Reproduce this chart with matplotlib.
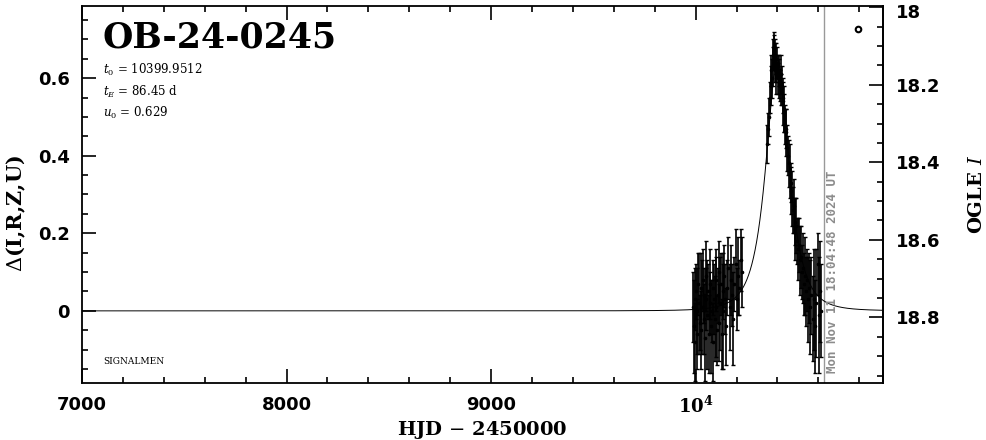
import numpy as np
import matplotlib
matplotlib.use("Agg")
import matplotlib.pyplot as plt
import matplotlib.transforms as mtransforms
from matplotlib.ticker import MultipleLocator, FuncFormatter
from matplotlib.font_manager import FontProperties

# ── event parameters (as printed on the chart) ───────────────────────────────
EVENT = "OB-24-0245"
T0, TE, U0 = 10399.9512, 86.45, 0.629
BASE_MAG = 18.783          # OGLE I at delta = 0
NOW = 10626.25             # Mon Nov 11 18:04:48 2024 UT
NOW_LABEL = "Mon Nov 11 18:04:48 2024 UT"

# ── OGLE photometry, 2023 season ─────────────────────────────────────────────
t1 = [9988, 9991, 9995, 9999, 10002, 10006, 10009, 10013, 10017, 10020,
      10024, 10028, 10031, 10035, 10039, 10042, 10046, 10050, 10053, 10057,
      10061, 10064, 10068, 10072, 10075, 10079, 10083, 10087, 10090, 10094,
      10098, 10101, 10105, 10109, 10113, 10116, 10120, 10124, 10128, 10132,
      10136, 10140, 10145, 10150, 10155, 10160, 10166, 10172, 10178, 10184,
      10190, 10196, 10202, 10208, 10214, 10220, 10226]
d1 = [0.01, -0.04, 0.03, -0.08, 0.05, 0.00, -0.06, 0.07, 0.02, -0.03,
      0.06, -0.05, 0.01, 0.08, -0.02, 0.04, -0.07, 0.03, 0.09, -0.01,
      0.05, -0.06, 0.02, 0.07, -0.04, 0.00, 0.06, -0.08, 0.03, -0.02,
      0.08, 0.01, -0.05, 0.04, 0.10, -0.03, 0.02, 0.07, -0.06, 0.05,
      0.00, 0.09, 0.03, -0.04, 0.06, 0.11, 0.01, 0.08, 0.04, -0.02,
      0.07, 0.12, 0.03, 0.09, 0.06, 0.13, 0.10]
e1 = [0.09, 0.12, 0.08, 0.10, 0.07, 0.11, 0.09, 0.08, 0.13, 0.07,
      0.09, 0.10, 0.12, 0.08, 0.09, 0.07, 0.11, 0.08, 0.09, 0.14,
      0.07, 0.10, 0.08, 0.09, 0.12, 0.08, 0.07, 0.10, 0.09, 0.11,
      0.08, 0.13, 0.09, 0.07, 0.08, 0.10, 0.12, 0.08, 0.09, 0.07,
      0.15, 0.08, 0.09, 0.10, 0.07, 0.08, 0.11, 0.09, 0.08, 0.12,
      0.07, 0.09, 0.08, 0.10, 0.07, 0.08, 0.09]

# ── OGLE photometry, 2024 season ─────────────────────────────────────────────
t2 = [10350, 10355, 10360, 10364, 10368, 10371, 10374, 10377, 10379, 10381,
      10383, 10385, 10387, 10389, 10391, 10393, 10395, 10398, 10401, 10404,
      10407, 10410, 10413, 10416, 10419, 10422, 10425, 10428, 10431, 10434,
      10437, 10440, 10444, 10448, 10452, 10456, 10460, 10464, 10468, 10472,
      10476, 10480, 10484, 10488, 10492, 10496, 10500, 10505, 10510, 10515,
      10520, 10525, 10530, 10535, 10540, 10545, 10550, 10555, 10560, 10566,
      10572, 10578, 10584, 10590, 10596, 10602, 10608, 10612]
d2 = [0.43, 0.47, 0.50, 0.55, 0.58, 0.62, 0.60, 0.66, 0.63, 0.68,
      0.65, 0.67, 0.64, 0.66, 0.62, 0.65, 0.61, 0.64, 0.63, 0.60,
      0.62, 0.60, 0.58, 0.61, 0.57, 0.58, 0.54, 0.55, 0.51, 0.52,
      0.48, 0.46, 0.47, 0.42, 0.40, 0.38, 0.36, 0.33, 0.31, 0.29,
      0.26, 0.27, 0.23, 0.21, 0.22, 0.18, 0.16, 0.17, 0.13, 0.14,
      0.10, 0.11, 0.07, 0.09, 0.05, 0.08, 0.03, 0.06, 0.01, 0.04,
      -0.02, 0.03, -0.04, 0.02, 0.12, -0.01, 0.05, 0.00]
e2 = [0.05, 0.04, 0.05, 0.04, 0.05, 0.04, 0.05, 0.04, 0.05, 0.04,
      0.03, 0.04, 0.05, 0.04, 0.03, 0.04, 0.05, 0.04, 0.03, 0.04,
      0.04, 0.05, 0.04, 0.05, 0.04, 0.05, 0.06, 0.04, 0.05, 0.06,
      0.05, 0.06, 0.05, 0.06, 0.05, 0.06, 0.07, 0.05, 0.06, 0.07,
      0.06, 0.07, 0.06, 0.08, 0.07, 0.06, 0.08, 0.07, 0.09, 0.08,
      0.07, 0.09, 0.08, 0.10, 0.09, 0.08, 0.11, 0.09, 0.12, 0.10,
      0.11, 0.13, 0.12, 0.14, 0.08, 0.15, 0.13, 0.12]

t_obs = np.array(t1 + t2, dtype=float)
d_obs = np.array(d1 + d2)
e_obs = np.array(e1 + e2)

# Paczynski model from the printed parameters, delta in magnitudes
t_mod = np.linspace(7000, 10920, 2000)
u = np.sqrt(U0**2 + ((t_mod - T0) / TE) ** 2)
amp = (u**2 + 2) / (u * np.sqrt(u**2 + 4))
d_mod = 2.5 * np.log10(amp)

# ── figure ────────────────────────────────────────────────────────────────────
plt.rcParams["font.family"] = "DejaVu Serif"
plt.rcParams["mathtext.fontset"] = "dejavuserif"

fig = plt.figure(figsize=(9.86, 4.40), dpi=100)
ax = fig.add_axes([0.0832, 0.1295, 0.8123, 0.8565])

ax.plot(t_mod, d_mod, color="black", lw=0.7, zorder=2)
ax.errorbar(t_obs, d_obs, yerr=e_obs, fmt="o", ms=1.6, color="black",
            ecolor="black", elinewidth=1.2, capsize=1.2, capthick=1.0, zorder=3)

ax.axvline(NOW, color="#999999", lw=1.0, zorder=1)
ax.text(NOW + 12, -0.160, NOW_LABEL, rotation=90, ha="left", va="bottom",
        color="#8c8c8c", fontsize=9, fontweight="bold", family="DejaVu Sans Mono")

ax.set_xlim(7000, 10916)
ax.set_ylim(-0.186, 0.7855)

tick_font = FontProperties(family="DejaVu Sans", weight="bold", size=13)
ax.xaxis.set_major_locator(MultipleLocator(1000))
ax.xaxis.set_minor_locator(MultipleLocator(200))
ax.yaxis.set_major_locator(MultipleLocator(0.2))
ax.yaxis.set_minor_locator(MultipleLocator(0.05))
ax.xaxis.set_major_formatter(FuncFormatter(
    lambda v, _: r"$\mathbf{10^4}$" if abs(v - 10000) < 1 else f"{v:.0f}"))
ax.yaxis.set_major_formatter(FuncFormatter(lambda v, _: f"{v:g}" if abs(v) > 1e-9 else "0"))

ax.tick_params(which="both", direction="in", top=True, right=False, width=1.2)
ax.tick_params(which="major", length=10, pad=9)
ax.tick_params(which="minor", length=4.5)
for lab in ax.get_xticklabels() + ax.get_yticklabels():
    lab.set_fontproperties(tick_font)
for s in ax.spines.values():
    s.set_linewidth(1.3)

# right axis: OGLE I magnitude
sec = ax.secondary_yaxis("right", functions=(lambda d: BASE_MAG - d,
                                             lambda m: BASE_MAG - m))
sec.yaxis.set_major_locator(MultipleLocator(0.2))
sec.yaxis.set_minor_locator(MultipleLocator(0.05))
sec.yaxis.set_major_formatter(FuncFormatter(lambda v, _: f"{v:g}"))
sec.tick_params(which="both", direction="in", width=1.2)
sec.tick_params(which="major", length=10, pad=9)
sec.tick_params(which="minor", length=4.5)
sec.spines["right"].set_linewidth(1.3)
for lab in sec.get_yticklabels():
    lab.set_fontproperties(tick_font)
sec.set_ylabel(r"OGLE $I$", fontsize=14, fontweight="bold", labelpad=20)

ax.set_xlabel(r"HJD $-$ 2450000", fontsize=14, fontweight="bold", labelpad=2)
ax.set_ylabel(r"$\Delta$(I,R,Z,U)", fontsize=15, fontweight="bold")
ax.yaxis.set_label_coords(-0.068, 0.45)

# annotations
ax.text(0.026, 0.891, EVENT, transform=ax.transAxes, fontsize=25,
        fontweight="bold", va="baseline", ha="left")
ax.text(0.026, 0.830, rf"$t_0$ = {T0:.4f}", transform=ax.transAxes,
        fontsize=8.5, va="center")
ax.text(0.026, 0.772, rf"$t_E$ = {TE:.2f} d", transform=ax.transAxes,
        fontsize=8.5, va="center")
ax.text(0.026, 0.716, rf"$u_0$ = {U0:.3f}", transform=ax.transAxes,
        fontsize=8.5, va="center")
ax.text(0.026, 0.056, "SIGNALMEN", transform=ax.transAxes, fontsize=6.5,
        va="center")
ax.plot([0.969], [0.939], "o", transform=ax.transAxes, ms=4, mfc="white",
        mec="black", mew=1.5)

# nudge the top "18" label down a touch so it isn't clipped by the figure edge
fig.canvas.draw()
nudge = mtransforms.ScaledTranslation(0, -3 / 72, fig.dpi_scale_trans)
for tick in sec.yaxis.get_major_ticks():
    if tick.label2.get_text() == "18":
        tick.label2.set_transform(tick.label2.get_transform() + nudge)

fig.savefig("out.png", dpi=100)
